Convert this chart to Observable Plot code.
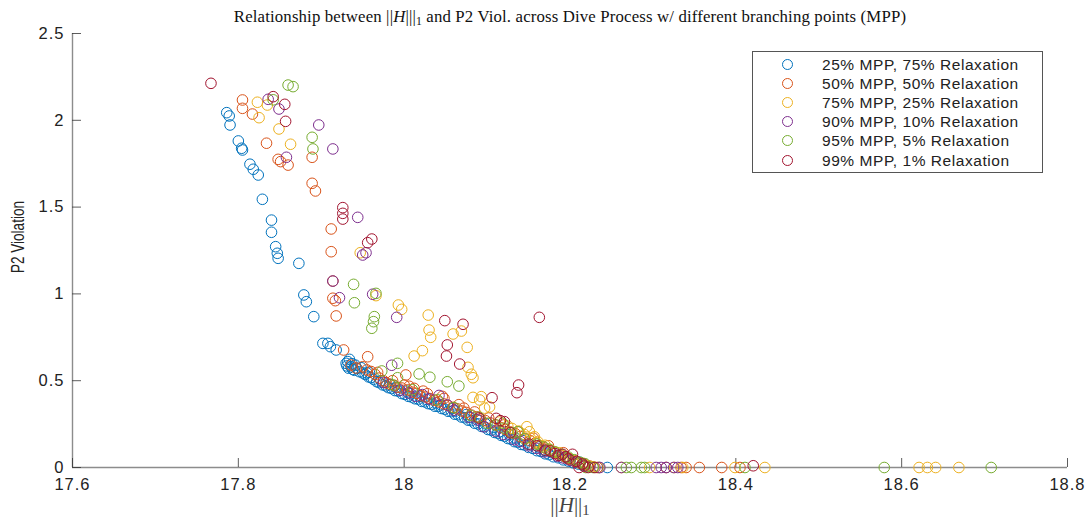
<!DOCTYPE html>
<html><head><meta charset="utf-8">
<script src="https://cdn.jsdelivr.net/npm/d3@7"></script>
<script src="https://cdn.jsdelivr.net/npm/@observablehq/plot@0.6"></script>
<style>
body{margin:0;background:#fff;}
#wrap{position:relative;width:1087px;height:521px;overflow:hidden;background:#fff;}
#title{position:absolute;z-index:3;top:6px;left:70px;width:1000px;text-align:center;font-family:"Liberation Serif",serif;font-size:16.8px;line-height:22px;color:#111;white-space:nowrap;letter-spacing:0.15px;}
#title sub,#xlabel sub{font-size:70%;vertical-align:-3px;line-height:0;}
#chart{position:absolute;top:22px;left:0;z-index:1;}
#chart svg text{letter-spacing:1px;}
#xlabel{position:absolute;z-index:3;top:494px;left:72px;width:996px;text-align:center;font-family:"Liberation Serif",serif;font-size:21px;line-height:22px;color:#444;}
#ylabel{position:absolute;z-index:3;left:18px;top:237px;width:0;height:0;}
#ylabel span{position:absolute;left:0;top:0;transform:translate(-50%,-50%) rotate(-90deg) scaleX(0.75);font-family:"Liberation Sans",sans-serif;font-size:18px;line-height:20px;color:#222;white-space:nowrap;}
#legend{position:absolute;z-index:3;left:752px;top:51px;width:291px;height:122px;border:1px solid #555;background:#fff;box-sizing:border-box;}
.row{position:absolute;left:0;height:19px;line-height:19px;font-family:"Liberation Sans",sans-serif;font-size:15.5px;letter-spacing:0.55px;color:#222;white-space:nowrap;}
.row svg{position:absolute;left:28px;top:3px;}
.row span{position:absolute;left:69px;top:0;}
</style></head>
<body>
<div id="wrap">
  <div id="title">Relationship between ||<i>H</i>|||<sub>1</sub> and P2 Viol. across Dive Process w/ different branching points (MPP)</div>
  <div id="chart"></div>
  <div id="xlabel">||<i>H</i>||<sub>1</sub></div>
  <div id="ylabel"><span>P2 Violation</span></div>
  <div id="legend"></div>
</div>
<script>
const seriesLabels = ["25% MPP, 75% Relaxation","50% MPP, 50% Relaxation","75% MPP, 25% Relaxation","90% MPP, 10% Relaxation","95% MPP, 5% Relaxation","99% MPP, 1% Relaxation"];
const seriesColors = ["#0072BD","#D95319","#EDB120","#7E2F8E","#77AC30","#A2142F"];
const xTicks = [17.6,17.8,18,18.2,18.4,18.6,18.8];
const xTickLabels = ["17.6","17.8","18","18.2","18.4","18.6","18.8"];
const yTicks = [0,0.5,1,1.5,2,2.5];
const yTickLabels = ["0","0.5","1","1.5","2","2.5"];

const s25 = [[17.786,2.044],[17.789,2.025],[17.790,1.973],[17.800,1.881],[17.804,1.839],[17.805,1.829],[17.814,1.747],[17.818,1.718],[17.824,1.685],[17.829,1.545],[17.840,1.425],[17.840,1.355],[17.845,1.272],[17.847,1.234],[17.848,1.205],[17.873,1.176],[17.879,0.994],[17.882,0.955],[17.891,0.869],[17.902,0.715],[17.908,0.715],[17.911,0.696],[17.918,0.677],[17.934,0.623],
[17.930,0.600],[17.931,0.585],[17.933,0.572],[17.936,0.580],[17.938,0.565],[17.940,0.560],[17.943,0.571],[17.946,0.552],[17.950,0.545],[17.953,0.536],[17.957,0.522],[17.960,0.518],[17.963,0.508],[17.967,0.494],[17.970,0.489],[17.974,0.476],[17.978,0.470],[17.981,0.460],[17.985,0.455],[17.989,0.443],[17.993,0.440],[17.997,0.426],[18.001,0.421],[18.005,0.410],[18.009,0.406],[18.013,0.396],[18.017,0.394],[18.021,0.381],[18.025,0.378],[18.029,0.368],[18.033,0.364],[18.037,0.353],[18.041,0.352],[18.045,0.340],[18.049,0.336],[18.053,0.324],[18.057,0.322],[18.061,0.307],[18.065,0.304],[18.069,0.291],[18.073,0.287],[18.077,0.273],[18.081,0.270],[18.085,0.255],[18.089,0.251],[18.093,0.237],[18.097,0.234],[18.101,0.219],[18.105,0.215],[18.109,0.202],[18.113,0.198],[18.117,0.185],[18.121,0.180],[18.125,0.167],[18.129,0.163],[18.133,0.149],[18.137,0.146],[18.141,0.133],[18.145,0.130],[18.150,0.116],[18.155,0.110],[18.160,0.097],[18.165,0.092],[18.170,0.079],[18.175,0.074],[18.180,0.062],[18.186,0.056],[18.192,0.044],[18.198,0.037],[18.204,0.027],[18.210,0.020],[18.216,0.011],[18.222,0.006],[18.228,0.002],[18.235,0],[18.245,0],
[17.955,0.545],[17.972,0.500],[17.990,0.462],[18.008,0.425],[18.027,0.392],[18.044,0.362],[18.062,0.325],[18.080,0.288],[18.098,0.252],[18.116,0.208],[18.134,0.170],[18.152,0.132],[18.170,0.096],
[17.932,0.610],[17.937,0.598],[17.941,0.590],[17.948,0.575],[17.958,0.548],[17.983,0.478],[18.003,0.440],[18.019,0.410],[18.039,0.372],[18.058,0.340],[18.075,0.305],[18.091,0.270],[18.108,0.232],[18.127,0.190],[18.143,0.155],[18.162,0.118],[18.178,0.085],[18.195,0.058],[18.212,0.030]];

const s50 = [[17.805,2.117],[17.805,2.069],[17.817,2.036],[17.834,1.868],[17.848,1.775],[17.851,1.762],[17.860,1.742],[17.889,1.787],[17.889,1.637],[17.893,1.593],[17.912,1.374],[17.912,1.243],[17.914,1.074],[17.914,0.975],[17.917,0.961],[17.918,0.873],[17.927,0.677],[17.956,0.638],[17.936,0.590],[17.942,0.573],
[17.950,0.580],[17.955,0.562],[17.960,0.553],[17.965,0.536],[17.970,0.515],[17.975,0.500],[17.978,0.488],[17.983,0.480],[17.988,0.472],[17.992,0.462],[17.997,0.458],[18.002,0.533],[18.000,0.475],[18.004,0.447],[18.012,0.456],[18.010,0.434],[18.015,0.427],[18.020,0.414],[18.023,0.440],[18.026,0.406],[18.031,0.397],[18.036,0.388],[18.042,0.378],[18.048,0.398],[18.048,0.366],[18.053,0.357],[18.059,0.346],[18.064,0.338],[18.070,0.325],[18.072,0.342],[18.075,0.317],[18.081,0.302],[18.087,0.292],[18.092,0.280],[18.098,0.270],[18.104,0.256],[18.110,0.246],[18.116,0.231],[18.122,0.219],[18.128,0.205],[18.134,0.195],[18.140,0.178],[18.146,0.168],[18.152,0.154],[18.158,0.141],[18.164,0.125],[18.170,0.112],[18.176,0.097],[18.182,0.087],[18.188,0.072],[18.194,0.061],[18.200,0.048],[18.206,0.038],[18.212,0.026],[18.218,0.017],[18.224,0.008],[18.233,0],[18.316,0],[18.334,0],[18.340,0],[18.356,0],[18.383,0],[18.405,0],
[17.968,0.548],[17.986,0.500],[18.006,0.468],[18.028,0.425],[18.046,0.410],[18.066,0.362],[18.085,0.320],[18.102,0.285],[18.120,0.245],[18.138,0.205],[18.156,0.168],[18.174,0.125],[18.192,0.085]];

const s75 = [[17.823,2.104],[17.825,2.015],[17.835,2.088],[17.849,1.950],[17.863,1.862],[17.947,1.237],[17.966,0.990],[17.993,0.936],[17.997,0.911],[18.029,0.878],[18.069,0.786],[18.030,0.792],[18.032,0.750],[18.059,0.769],[18.076,0.692],[18.022,0.673],[18.012,0.642],[18.077,0.577],[18.081,0.537],[18.083,0.517],[18.083,0.404],[18.093,0.408],[18.091,0.389],[18.097,0.342],[18.103,0.349],[18.115,0.262],[18.125,0.238],[18.148,0.235],[18.151,0.206],[18.157,0.177],[18.161,0.149],[18.145,0.190],[18.168,0.120],[18.175,0.104],[18.182,0.088],[18.190,0.070],[18.196,0.055],[18.203,0.040],[18.210,0.028],[18.216,0.018],[18.222,0.010],[18.228,0.004],[18.262,0],[18.296,0],[18.326,0],[18.336,0],[18.399,0],[18.435,0],[18.621,0],[18.631,0],[18.641,0],[18.669,0],
[18.130,0.225],[18.138,0.210],[18.152,0.170],[18.160,0.140],[18.170,0.128],[18.187,0.085],[18.200,0.050],[18.215,0.025],[18.235,0]];

const s90 = [[17.836,2.121],[17.849,2.065],[17.897,1.973],[17.914,1.835],[17.858,1.787],[17.944,1.441],[17.950,1.224],[17.954,1.237],[17.914,1.074],[17.962,0.998],[17.922,0.978],[17.991,0.865],[17.985,0.589],[17.975,0.490],[17.995,0.445],[18.014,0.410],[18.030,0.395],[18.042,0.415],[18.060,0.330],[18.078,0.290],[18.096,0.235],[18.110,0.210],[18.133,0.160],[18.150,0.125],[18.169,0.090],[18.185,0.065],[18.200,0.042],[18.215,0.020],[18.236,0],[18.262,0],[18.304,0],[18.310,0],[18.316,0],[18.325,0],[18.330,0],
[18.005,0.430],[18.022,0.420],[18.052,0.360],[18.088,0.275],[18.120,0.190],[18.140,0.150],[18.160,0.110],[18.192,0.055],[18.207,0.030]];

const s95 = [[17.842,2.118],[17.860,2.203],[17.866,2.194],[17.889,1.902],[17.890,1.835],[17.939,1.055],[17.966,1.003],[17.940,0.949],[17.964,0.869],[17.963,0.840],[17.961,0.802],[17.992,0.600],[17.973,0.556],[18.018,0.539],[18.031,0.520],[18.052,0.494],[18.066,0.469],[17.992,0.517],[17.987,0.475],[18.119,0.255],[18.137,0.206],[18.121,0.226],[18.060,0.345],[18.080,0.300],[18.100,0.255],[18.145,0.165],[18.160,0.135],[18.175,0.105],[18.190,0.075],[18.205,0.045],[18.218,0.022],[18.219,0],[18.268,0],[18.274,0],[18.286,0],[18.290,0],[18.411,0],[18.579,0],[18.708,0],
[18.010,0.448],[18.040,0.390],[18.090,0.290],[18.110,0.245],[18.130,0.200],[18.168,0.118],[18.182,0.090],[18.198,0.060],[18.212,0.030],[18.228,0]];

const s99 = [[17.767,2.213],[17.842,2.136],[17.856,2.092],[17.857,1.994],[17.926,1.497],[17.926,1.464],[17.926,1.431],[17.956,1.295],[17.961,1.316],[18.049,0.846],[18.071,0.825],[18.052,0.706],[18.051,0.642],[18.067,0.596],[18.138,0.475],[18.136,0.431],[18.106,0.402],[18.163,0.865],[18.111,0.283],[18.116,0.270],[18.121,0.264],[18.150,0.135],[18.170,0.100],[18.182,0.080],[18.191,0.076],[18.195,0.062],[18.203,0.076],[18.208,0.035],[18.215,0.020],[18.211,0],[18.222,0],[18.421,0.010],
[18.090,0.285],[18.128,0.200],[18.160,0.125],[18.176,0.095],[18.186,0.070],[18.198,0.050],[18.217,0.008],[18.230,0]];

const allSeries = [s25,s50,s75,s90,s95,s99];
const points = [];
allSeries.forEach((s, i) => s.forEach(([h, p]) => points.push({h, p, series: seriesLabels[i]})));

const chart = Plot.plot({
  width: 1087, height: 499,
  marginLeft: 72, marginRight: 20, marginTop: 11, marginBottom: 54,
  style: {fontFamily: "Liberation Sans, sans-serif", fontSize: "16px", color: "#222", background: "transparent"},
  x: {domain: [17.6, 18.8]},
  y: {domain: [0, 2.5]},
  color: {domain: seriesLabels, range: seriesColors},
  marks: [
    Plot.ruleY([0], {stroke: "#8c8c8c", strokeWidth: 1.4}),
    Plot.ruleX([17.6], {stroke: "#8c8c8c", strokeWidth: 1.4}),
    Plot.axisX(xTicks, {tickSize: -9, tickPadding: 20, stroke: "#333", strokeWidth: 0.8, fill: "#222", fontSize: 16.5, tickFormat: d => xTickLabels[xTicks.indexOf(d)], label: null}),
    Plot.axisY(yTicks, {tickSize: -9, tickPadding: 17, stroke: "#333", strokeWidth: 0.8, fill: "#222", fontSize: 16.5, tickFormat: d => yTickLabels[yTicks.indexOf(d)], label: null}),
    Plot.dot(points, {x: "h", y: "p", stroke: "series", r: 5.3, strokeWidth: 1, fill: "none"})
  ]
});
document.getElementById("chart").appendChild(chart);

const legend = document.getElementById("legend");
seriesLabels.forEach((lab, i) => {
  const row = document.createElement("div");
  row.className = "row";
  row.style.top = (2.5 + i * 19.2) + "px";
  row.innerHTML = `<svg width="13" height="13"><circle cx="6.5" cy="6.5" r="5" fill="none" stroke="${seriesColors[i]}" stroke-width="1"/></svg><span>${lab}</span>`;
  legend.appendChild(row);
});
</script>
</body></html>
